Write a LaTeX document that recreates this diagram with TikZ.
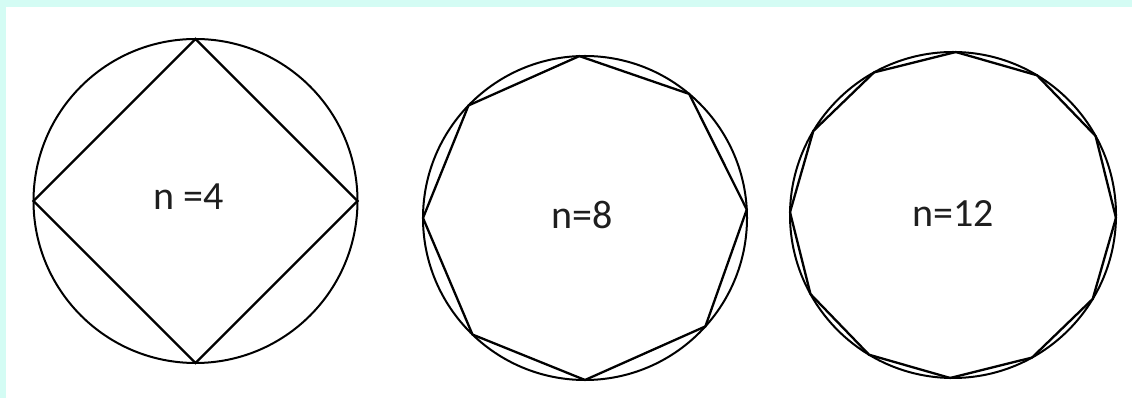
\documentclass[tikz,border=0pt]{standalone}
\usepackage{fontspec}
\setmainfont{Carlito}
\definecolor{framecyan}{RGB}{212,252,244}
\definecolor{txt}{RGB}{30,30,30}
\tikzset{
  ring/.style={circle, draw=black, line width=2pt, outer sep=0pt, inner sep=0pt, minimum size=#1},
  poly/.style={draw=black, line width=2.3pt, line join=miter},
  lbl/.style={font=\fontsize{40}{45}\selectfont, text=txt, inner sep=0pt}
}
\begin{document}
\begin{tikzpicture}[x=1pt,y=1pt]
\useasboundingbox (0,0) rectangle (1132,398);
\fill[framecyan] (0,0) rectangle (1132,398);
\fill[white] (6,0) rectangle (1132,391);
% circle 1 with square
\node[ring=324pt] (c1) at (195.5,197) {};
\draw[poly] (c1.90) -- (c1.0) -- (c1.-90) -- (c1.180) -- cycle;
\node[lbl] (t1) at (189,201) {n =4};
% circle 2 with octagon
\node[ring=324pt] (c2) at (585,180) {};
\draw[poly] (c2.92) -- (c2.50) -- (c2.3) -- (c2.-42) -- (c2.-90) -- (c2.-134) -- (c2.180) -- (c2.136) -- cycle;
\node[lbl] (t2) at (582,183) {n=8};
% circle 3 with dodecagon
\node[ring=326pt] (c3) at (953,183) {};
\draw[poly] (c3.89) \foreach \a in {59,29,...,-241} { -- (c3.\a) } -- cycle;
\node[lbl] (t3) at (953,184) {n=12};
\end{tikzpicture}
\end{document}
